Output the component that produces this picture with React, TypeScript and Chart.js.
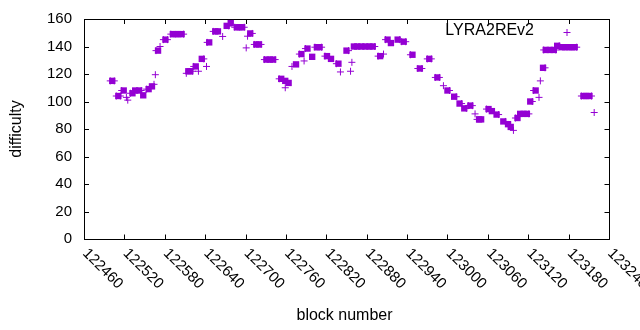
import React, { useEffect, useRef } from "react";
import { Chart, registerables } from "chart.js";

Chart.register(...registerables);

const squareBlocks = [
  122502, 122511, 122519, 122532, 122536, 122542, 122548, 122556, 122561, 122570,
  122581, 122592, 122596, 122600, 122605, 122615, 122618, 122626, 122635, 122646,
  122655, 122659, 122672, 122678, 122687, 122691, 122695, 122707, 122716, 122720,
  122731, 122736, 122741, 122753, 122759, 122764, 122775, 122783, 122792, 122799,
  122806, 122810, 122821, 122827, 122838, 122850, 122861, 122866, 122872, 122878,
  122884, 122889, 122900, 122911, 122916, 122926, 122935, 122948, 122959, 122973,
  122985, 123000, 123010, 123018, 123025, 123034, 123047, 123050, 123061, 123066,
  123073, 123083, 123090, 123094, 123104, 123108, 123113, 123118, 123123, 123131,
  123142, 123146, 123152, 123158, 123163, 123170, 123175, 123180, 123185, 123189,
  123202, 123206, 123211,
];
const squareValues = [
  115, 104, 108, 106, 108, 108, 104.5, 109, 111, 137,
  145, 149, 149, 149, 149, 122, 122, 125.5, 131, 143,
  151, 151, 155, 157, 154, 154, 154, 149.5, 141.5, 141.5,
  130.5, 130.5, 130.5, 116.5, 115, 113.5, 127, 134.5, 138.5, 132.5,
  139.5, 139.5, 133, 131, 127.5, 137, 140, 140, 140, 140,
  140, 140, 133, 145, 142.5, 145, 143.5, 134, 124, 131,
  117.5, 108, 103.5, 98.5, 95, 97, 87, 87, 94.5, 93,
  90.5, 85.5, 83.5, 81.5, 88, 91, 91, 91, 100, 108,
  124.5, 137.5, 137.5, 137.5, 140.5, 139.5, 139.5, 139.5, 139.5, 139.5,
  104, 104, 104,
];

const plusBlocks = [
  122523, 122525, 122564, 122566, 122573, 122612, 122630, 122642, 122666, 122701,
  122703, 122759, 122769, 122787, 122841, 122856, 122858, 122905, 122994, 123041,
  123098, 123136, 123138, 123218,
  122499, 122505, 122508, 122514, 122516, 122529, 122545, 122553, 122567, 122578,
  122584, 122589, 122608, 122621, 122623, 122638, 122643, 122652, 122675, 122684,
  122698, 122710, 122713, 122723, 122728, 122744, 122750, 122780, 122789, 122803,
  122813, 122818, 122835, 122853, 122892, 122897, 122908, 122929, 122932, 122938,
  122945, 122956, 122962, 122970, 122976, 122982, 122988, 123003, 123013, 123021,
  123028, 123031, 123037, 123044, 123058, 123076, 123086, 123101, 123121, 123126,
  123128, 123145, 123143, 123161, 123166, 123192, 123199, 123214,
];
const plusValues = [
  103, 101, 112.5, 119.5, 140, 120.5, 122, 125.5, 147.3, 139,
  147.5, 110, 125.5, 129.5, 121.5, 122, 128.5, 134.5, 111.5, 91,
  79, 103, 115, 92,
  115, 115, 104, 104, 108, 106, 108, 109, 137, 145,
  145, 149, 149, 122, 125.5, 131, 143, 151, 155, 154,
  154, 149.5, 141.5, 141.5, 130.5, 130.5, 116.5, 134.5, 138.5, 139.5,
  139.5, 133, 127.5, 137, 140, 133, 145, 145, 143.5, 143.5,
  134, 124, 124, 131, 131, 117.5, 117.5, 108, 103.5, 98.5,
  95, 97, 97, 87, 94.5, 90.5, 85.5, 88, 91, 100,
  108, 124.5, 137.5, 137.5, 140.5, 139.5, 104, 104,
];

const xTicks = [
  122460, 122520, 122580, 122640, 122700, 122760, 122820, 122880, 122940,
  123000, 123060, 123120, 123180, 123240,
];
const yTicks = [0, 20, 40, 60, 80, 100, 120, 140, 160];

const seriesName = "LYRA2REv2";
const xTitle = "block number";
const yTitle = "difficulty";
const COLOR = "#9400D3";
const FONT = "Liberation Sans, Arial, sans-serif";

export default function App() {
  const ref = useRef<HTMLCanvasElement | null>(null);

  useEffect(() => {
    if (!ref.current) return;
    const framePlugin = {
      id: "gnuframe",
      beforeDatasetsDraw(chart: any) {
        const { ctx, chartArea: a, scales } = chart;
        ctx.save();
        ctx.strokeStyle = "#000";
        ctx.lineWidth = 1;
        ctx.beginPath();
        ctx.rect(a.left + 0.5, a.top + 0.5, a.right - a.left, a.bottom - a.top);
        ctx.stroke();
        ctx.beginPath();
        for (const t of yTicks) {
          const y = Math.round(scales.y.getPixelForValue(t)) + 0.5;
          ctx.moveTo(a.left, y);
          ctx.lineTo(a.left + 5, y);
          ctx.moveTo(a.right + 0.5, y);
          ctx.lineTo(a.right - 4.5, y);
        }
        for (const t of xTicks) {
          const x = Math.round(scales.x.getPixelForValue(t)) + 0.5;
          ctx.moveTo(x, a.bottom + 0.5);
          ctx.lineTo(x, a.bottom - 4.5);
          ctx.moveTo(x, a.top);
          ctx.lineTo(x, a.top + 5);
        }
        ctx.stroke();
        ctx.restore();
      },
      afterDraw(chart: any) {
        const { ctx, chartArea: a, scales } = chart;
        ctx.save();
        ctx.fillStyle = "#000";
        ctx.font = `15px ${FONT}`;
        ctx.textAlign = "right";
        ctx.textBaseline = "middle";
        for (const t of yTicks) {
          const y = scales.y.getPixelForValue(t);
          ctx.fillText(String(t), a.left - 12, y);
        }
        ctx.textAlign = "left";
        for (const t of xTicks) {
          const x = scales.x.getPixelForValue(t);
          ctx.save();
          ctx.translate(x + 1, a.bottom + 12);
          ctx.rotate(Math.PI / 4);
          ctx.fillText(String(t), 0, 0);
          ctx.restore();
        }
        ctx.font = `16px ${FONT}`;
        ctx.textAlign = "center";
        ctx.fillText(xTitle, (a.left + a.right) / 2 - 2, 316);
        ctx.save();
        ctx.translate(17, (a.top + a.bottom) / 2);
        ctx.rotate(-Math.PI / 2);
        ctx.fillText(yTitle, 0, 0);
        ctx.restore();
        // key
        ctx.textAlign = "right";
        ctx.fillText(seriesName, 534, 31);
        ctx.strokeStyle = COLOR;
        ctx.lineWidth = 1;
        ctx.beginPath();
        ctx.moveTo(563.5, 32.5);
        ctx.lineTo(570.5, 32.5);
        ctx.moveTo(567, 29);
        ctx.lineTo(567, 36);
        ctx.stroke();
        ctx.restore();
      },
    };

    const chart = new Chart(ref.current, {
      type: "scatter",
      data: {
        datasets: [
          {
            label: seriesName,
            data: squareBlocks.map((b, i) => ({ x: b, y: squareValues[i] })),
            pointStyle: "rect",
            pointRadius: 4.5,
            pointHoverRadius: 4.5,
            backgroundColor: COLOR,
            borderColor: COLOR,
            borderWidth: 0,
          },
          {
            label: seriesName + " +",
            data: plusBlocks.map((b, i) => ({ x: b, y: plusValues[i] })),
            pointStyle: "cross",
            pointRadius: 3.5,
            pointHoverRadius: 3.5,
            backgroundColor: COLOR,
            borderColor: COLOR,
            borderWidth: 1,
          },
        ],
      },
      options: {
        responsive: false,
        animation: false,
        devicePixelRatio: 1,
        layout: { padding: { left: 84, top: 19, right: 31, bottom: 91 } },
        plugins: { legend: { display: false }, tooltip: { enabled: false } },
        scales: {
          x: { type: "linear", min: 122460, max: 123240, display: false },
          y: { type: "linear", min: 0, max: 160, display: false },
        },
      },
      plugins: [framePlugin],
    });
    return () => chart.destroy();
  }, []);

  return (
    <div style={{ position: "absolute", left: 0, top: 0, width: 640, height: 330, background: "#fff" }}>
      <canvas ref={ref} width={640} height={330} style={{ display: "block" }} />
    </div>
  );
}
